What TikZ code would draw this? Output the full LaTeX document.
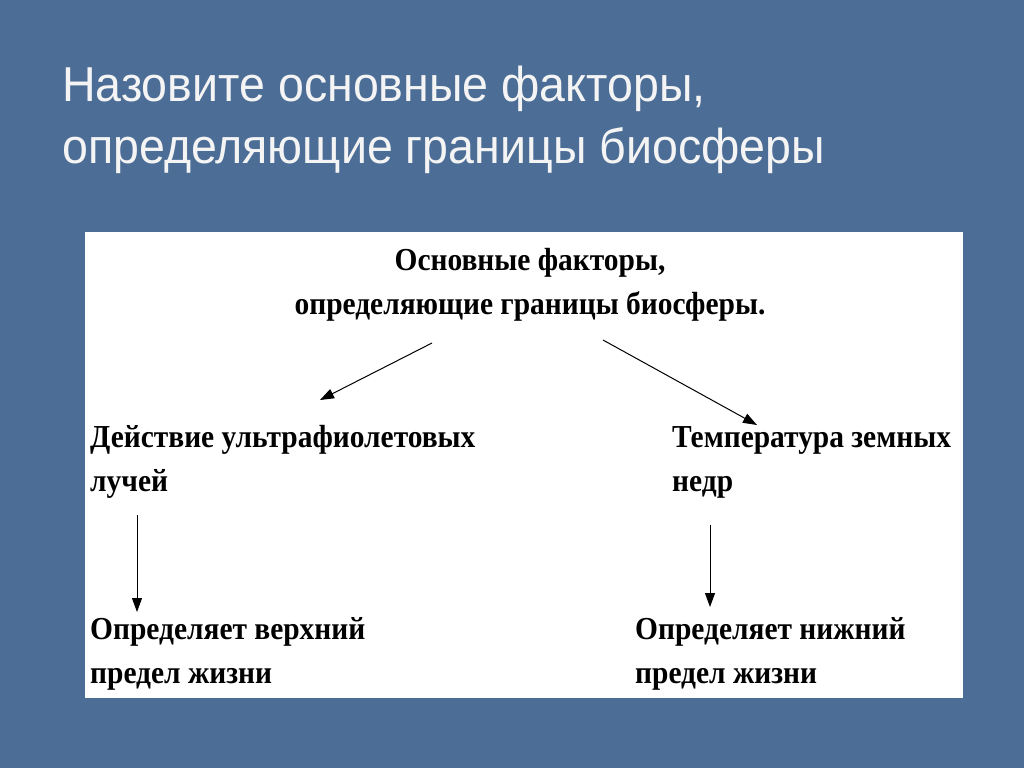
\documentclass[tikz,border=0pt]{standalone}
\usepackage{fontspec}
\setmainfont{Liberation Serif}
\newfontfamily\boxfont[FakeStretch=0.92]{Liberation Serif}
\newfontfamily\titlefont[FakeStretch=0.95]{Liberation Sans}
\usetikzlibrary{arrows.meta}
\definecolor{slidebg}{HTML}{4C6D96}
\definecolor{titlecol}{HTML}{F4F4F4}
\begin{document}
\begin{tikzpicture}[x=1pt,y=-1pt,
  txt/.style = {anchor=west, align=left, inner sep=0pt, font=\boxfont\fontsize{32}{44}\selectfont\bfseries},
  arrow/.style = {-{Triangle[length=14pt,width=10pt]}, line width=1pt}
]
\useasboundingbox (0,0) rectangle (1024,768);
\fill[slidebg] (0,0) rectangle (1024,768);

% Title
\node[anchor=north west, align=left, inner sep=0pt, text=titlecol, font=\titlefont\fontsize{49}{62}\selectfont] (title) at (62,66) {Назовите основные факторы,\\определяющие границы биосферы};

% White panel
\fill[white] (85,232) rectangle (963,698);

% Texts
\node[txt, anchor=center, align=center] (head) at (530,285) {Основные факторы,\\определяющие границы биосферы.};
\node[txt] (uv) at (90,462) {Действие ультрафиолетовых\\лучей};
\node[txt] (temp) at (672,462) {Температура земных\\ недр};
\node[txt] (upper) at (90,654) {Определяет верхний\\ предел жизни};
\node[txt] (lower) at (635,654) {Определяет нижний\\ предел жизни};

% Arrow ends
\coordinate (a1) at (432,343); \coordinate (b1) at (320,400);
\coordinate (a2) at (603,340); \coordinate (b2) at (757,425);
\coordinate (a3) at (137,515); \coordinate (b3) at (137,612);
\coordinate (a4) at (710,525); \coordinate (b4) at (710,607);

\draw[arrow] (a1) -- (b1);
\draw[arrow] (a2) -- (b2);
\draw[arrow] (a3) -- (b3);
\draw[arrow] (a4) -- (b4);
\end{tikzpicture}
\end{document}
